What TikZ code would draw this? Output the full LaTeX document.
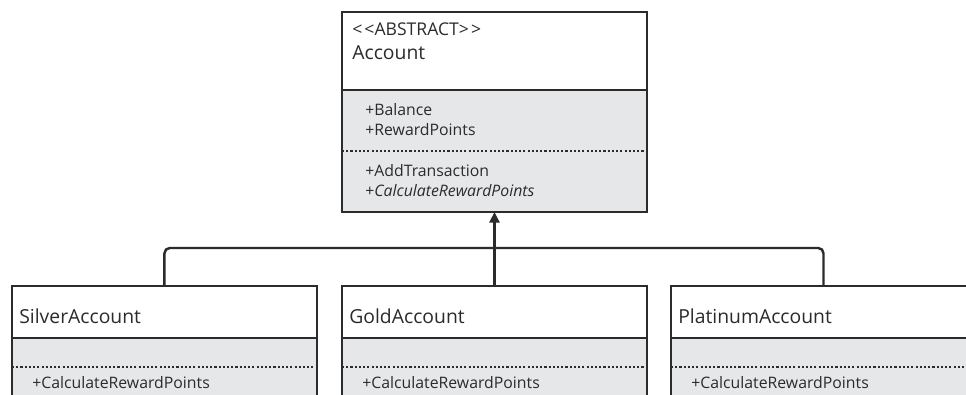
\documentclass[tikz,border=0pt]{standalone}
\usepackage{fontspec}
\setmainfont{Open Sans}
\usetikzlibrary{arrows.meta,positioning}

\definecolor{umlline}{HTML}{2B2B2B}
\definecolor{umlgrey}{HTML}{E6E7E9}

\begin{document}
\begin{tikzpicture}[
  x=0.02cm, y=-0.02cm,
  head/.style={draw=umlline,line width=1.4pt,fill=white,outer sep=0pt,inner sep=0pt,minimum width=6.1cm},
  body/.style={draw=umlline,line width=1.4pt,fill=umlgrey,outer sep=0pt,inner sep=0pt,minimum width=6.1cm},
  sep/.style={draw=umlline,line width=1.2pt,dash pattern=on 1.2pt off 1.2pt},
  link/.style={draw=umlline,line width=1.4pt,rounded corners=3pt},
  cname/.style={anchor=west,inner sep=0pt,text=umlline,font=\fontsize{11}{13}\selectfont},
  member/.style={anchor=west,inner sep=0pt,text=umlline,font=\fontsize{9}{11}\selectfont}
]

\useasboundingbox (0,0) rectangle (966,395);
\clip (0,0) rectangle (966,395);

% ---- abstract base class ----
\node[head,anchor=north west,minimum height=1.56cm] (acct) at (342,12) {};
\node[body,below=0pt of acct,minimum height=2.44cm] (acctb) {};
\draw[sep] (342,151) -- (647,151);
\node[member,font=\fontsize{10}{12}\selectfont] (accts) at (352,29) {<\kern1.2pt<ABSTRACT>\kern1.2pt>};
\node[cname] (acctn) at (352,53) {Account};
\node[member] (bal) at (365,110) {+Balance};
\node[member] (rwp) at (365,130) {+RewardPoints};
\node[member] (addt) at (365,171) {+AddTransaction};
\node[member] (calc) at (365,191) {+\textit{CalculateRewardPoints}};

% ---- derived classes ----
\foreach \id/\x/\name in {silver/12/SilverAccount, gold/342/GoldAccount, plat/671/PlatinumAccount}{
  \node[head,anchor=north west,minimum height=1.04cm] (\id) at (\x,286) {};
  \node[body,below=0pt of \id,minimum height=2.2cm] (\id b) {};
  \draw[sep] (\x,367) -- ++(305,0);
  \node[cname] (\id n) at (\x+7,316) {\name};
  \node[member] (\id c) at (\x+20,383) {+CalculateRewardPoints};
}

% ---- generalisation ----
\draw[link] (silver.north) -- ++(0,-38) -| (plat.north);
\draw[link,-{Triangle[length=6pt,width=5.6pt]}] (gold.north) -- (acctb.south);

\end{tikzpicture}
\end{document}
